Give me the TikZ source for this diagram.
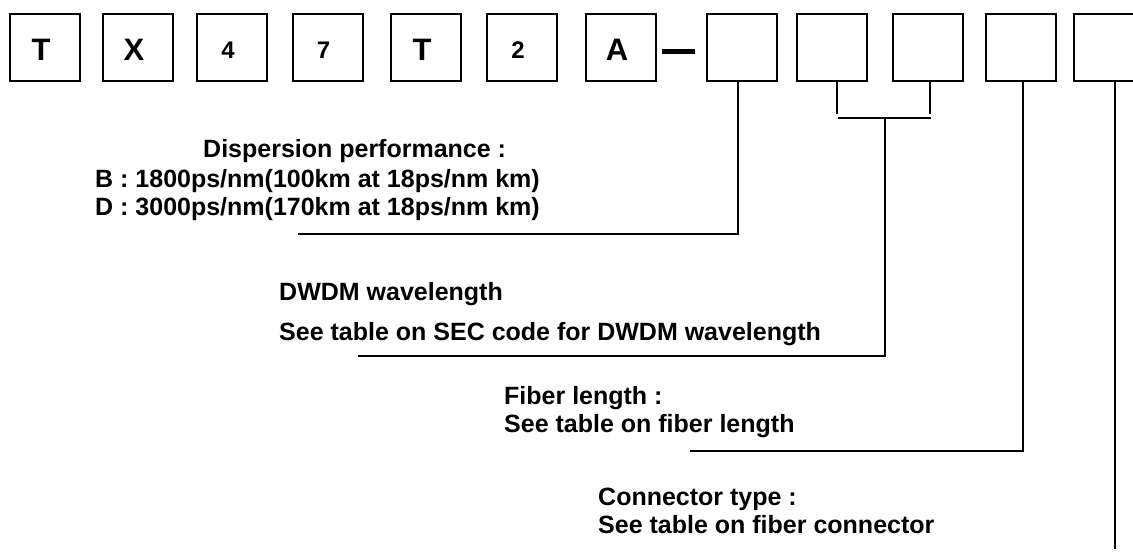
\documentclass[tikz,border=0pt]{standalone}
\usepackage{fontspec}
\setmainfont{Liberation Sans}
\begin{document}
\begin{tikzpicture}[x=1pt,y=-1pt,
    codebox/.style={draw, line width=2pt, minimum width=70pt, minimum height=67pt, inner sep=0pt},
    bigchar/.style={inner sep=0pt, font=\fontsize{31}{31}\selectfont\bfseries},
    smallchar/.style={inner sep=0pt, font=\fontsize{24}{24}\selectfont\bfseries},
    note/.style={anchor=base west, inner sep=0pt, font=\fontsize{25}{25}\selectfont\bfseries},
    lead/.style={line width=1.5pt}]
    % Fix the page size
    \useasboundingbox (0,0) rectangle (1133,554);

    % Draw the code boxes
    \foreach \n/\x in {1/45,2/138,3/232,4/327.5,5/426,6/522,7/621,8/741.5,9/831.5,10/928,11/1021,12/1109}
        \node[codebox] (b\n) at (\x,47.5) {};

    % Label the fixed part of the code
    \foreach \n/\s/\t in {1/bigchar/T,2/bigchar/X,3/smallchar/4,4/smallchar/7,5/bigchar/T,6/smallchar/2,7/bigchar/A}
        \node[\s] (c\n) at ([xshift=-4pt,yshift=-2.5pt]b\n.center) {\t};

    % Dash before the variable part
    \draw[line width=5pt] ([xshift=5pt,yshift=-3.5pt]b7.east) -- ([xshift=-11pt,yshift=-3.5pt]b8.west);

    % Define the ends of the leader lines
    \coordinate (dispEnd) at (298,234);
    \coordinate (wlL) at (838,118);
    \coordinate (wlR) at (931,118);
    \coordinate (wlMid) at (885,118);
    \coordinate (wlEnd) at (358,356);
    \coordinate (fibEnd) at (690,451);
    \coordinate (conEnd) at (1115,549);

    % Draw the leader lines
    \draw[lead] ([xshift=-3.5pt]b8.south) |- (dispEnd);
    \draw[lead] ([xshift=5.5pt]b9.south) -- ++(0,32);
    \draw[lead] ([xshift=2pt]b10.south) -- ++(0,32);
    \draw[lead] (wlL) -- (wlR);
    \draw[lead] (wlMid) |- (wlEnd);
    \draw[lead] ([xshift=2pt]b11.south) |- (fibEnd);
    \draw[lead] ([xshift=6pt]b12.south) -- (conEnd);

    % Notes
    \node[note] (disp) at (203,157) {Dispersion performance :};
    \node[note] (dispB) at (95,187) {B : 1800ps/nm(100km at 18ps/nm km)};
    \node[note] (dispD) at (95,215) {D : 3000ps/nm(170km at 18ps/nm km)};
    \node[note] (wl) at (279,300) {DWDM wavelength};
    \node[note] (wlSee) at (279,340) {See table on SEC code for DWDM wavelength};
    \node[note] (fib) at (504,404) {Fiber length :};
    \node[note] (fibSee) at (504,432) {See table on fiber length};
    \node[note] (con) at (598,505) {Connector type :};
    \node[note] (conSee) at (598,533) {See table on fiber connector};

\end{tikzpicture}
\end{document}
